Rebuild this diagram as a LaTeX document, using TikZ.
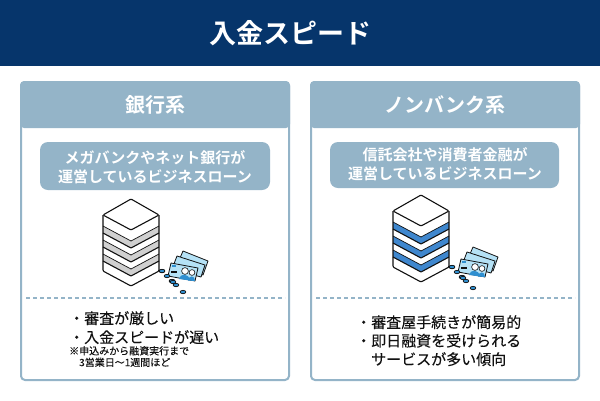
\documentclass[tikz,border=0pt]{standalone}
\usepackage{fontspec}
\setmainfont[FakeBold=0.15]{Noto Sans CJK JP}
\newfontfamily\jpbold{Noto Sans CJK JP Bold}
\definecolor{navy}{HTML}{06356B}
\definecolor{steel}{HTML}{94B4C8}
\definecolor{inkc}{HTML}{111111}
\definecolor{bandg}{HTML}{D0D0D0}
\definecolor{bandb}{HTML}{3F87CE}
\definecolor{notec}{HTML}{B5E2F6}
\definecolor{noted}{HTML}{2F8FD0}
\tikzset{
  x=1pt,y=-1pt,
  panel/.style={draw=steel,line width=2pt,rounded corners=4pt,fill=white},
  head/.style={fill=steel,rounded corners=4pt},
  pill/.style={fill=steel,rounded corners=8pt},
  whitebold/.style={text=white,font=\jpbold,align=center,inner sep=0pt},
  body/.style={text=inkc,align=left,inner sep=0pt,anchor=north west},
  dashline/.style={draw=steel,line width=1.4pt,dash pattern=on 4pt off 3pt},
  srv/.style={draw=inkc,line width=1.1pt,line join=round},
  nt/.style={draw=inkc,line width=.8pt,fill=notec,line join=round}
}
% #1 = centre x, #2 = apex y, #3 = band colour
\newcommand{\serverstack}[3]{%
  \begin{scope}[shift={(#1,#2)}]
    \fill[white] (0,0)--(28,16)--(28,72)--(0,87)--(-28,72)--(-28,16)--cycle;
    \foreach \d in {0,1,2}{
      \fill[#3] (-28,{27+\d*14})--(0,{42+\d*14})--(28,{27+\d*14})--(28,{34+\d*14})--(0,{49+\d*14})--(-28,{34+\d*14})--cycle;
      \draw[srv,line width=.7pt] (-28,{27+\d*14})--(0,{42+\d*14})--(28,{27+\d*14});
      \draw[srv] (-28,{34+\d*14})--(0,{49+\d*14})--(28,{34+\d*14});
    }
    \draw[srv,rounded corners=1pt] (0,0)--(28,16)--(0,31)--(-28,16)--cycle;
    \draw[srv,rounded corners=1pt] (28,16)--(28,72)--(0,87)--(-28,72)--(-28,16);
  \end{scope}}
% #1,#2 = position of the front note's lower left corner
\newcommand{\moneypile}[2]{%
  \begin{scope}[shift={(#1,#2)}]
    \draw[nt] (16,-25)--(41,-15)--(36,-1)--(10,-11)--cycle;
    \draw[nt] (10,-20)--(38,-11)--(34,1)--(5,-7)--cycle;
    \draw[nt] (4,-13)--(31,-8)--(28,5)--(1,0)--cycle;
    \fill[noted] (12,3)..controls (13,-3) and (22,-3)..(23,4.5)--cycle;
    \fill[noted] (21,4.5)..controls (22,-1) and (28,-1)..(28,5)--cycle;
    \draw[inkc,line width=.6pt,fill=white] (18,-5) circle (3.4);
    \draw[inkc,line width=.6pt,fill=white] (25,-3.5) circle (2.9);
    \fill[inkc] (4,-4.6) rectangle (10,-3.2);
    \fill[noted] (5,-11) rectangle (9,-9.5);
    \foreach \cx/\cy in {-5,0,-5,5,5,6,16,9}{
      \fill[noted,draw=inkc,line width=.7pt] (\cx,\cy) ellipse (2.8 and 1.7);
    }
  \end{scope}}
\begin{document}
\begin{tikzpicture}
\useasboundingbox (0,0) rectangle (600,400);
\fill[white] (0,0) rectangle (600,400);
\fill[navy] (0,0) rectangle (600,66);
\node[whitebold,font=\jpbold\fontsize{27}{30}\selectfont] (title) at (290,33) {入金スピード};

\draw[panel] (21,82) rectangle (289,380);
\draw[panel] (311,82) rectangle (579,380);
\fill[head] (20,81) rectangle (290,128);
\fill[head] (310,81) rectangle (580,128);
\node[whitebold,font=\jpbold\fontsize{20}{22}\selectfont] (h1) at (155,105) {銀行系};
\node[whitebold,font=\jpbold\fontsize{20}{22}\selectfont] (h2) at (445,105) {ノンバンク系};

\fill[pill] (40,142) rectangle (270,190);
\fill[pill] (330,142) rectangle (559,188);
\node[whitebold,font=\jpbold\fontsize{15}{19.5}\selectfont] (p1) at (155,167) {メガバンクやネット銀行が\\運営しているビジネスローン};
\node[whitebold,font=\jpbold\fontsize{15}{18.5}\selectfont] (p2) at (445,164) {信託会社や消費者金融が\\運営しているビジネスローン};

\serverstack{131}{199}{bandg}
\serverstack{421}{195}{bandb}
\moneypile{167}{276}
\moneypile{457}{272}

\draw[dashline] (26,298) -- (285,298);
\draw[dashline] (316,298) -- (575,298);

\node[body,font=\fontsize{15}{19}\selectfont] (l1) at (69,311) {・審査が厳しい\\・入金スピードが遅い};
\node[body,font=\fontsize{10}{11.5}\selectfont] (l2) at (69,346) {※申込みから融資実行まで\\\hspace*{10pt}3営業日〜1週間ほど};
\node[body,font=\fontsize{15}{18.5}\selectfont] (r1) at (356,315) {・審査屋手続きが簡易的\\・即日融資を受けられる\\\hspace*{15pt}サービスが多い傾向};
\end{tikzpicture}
\end{document}
